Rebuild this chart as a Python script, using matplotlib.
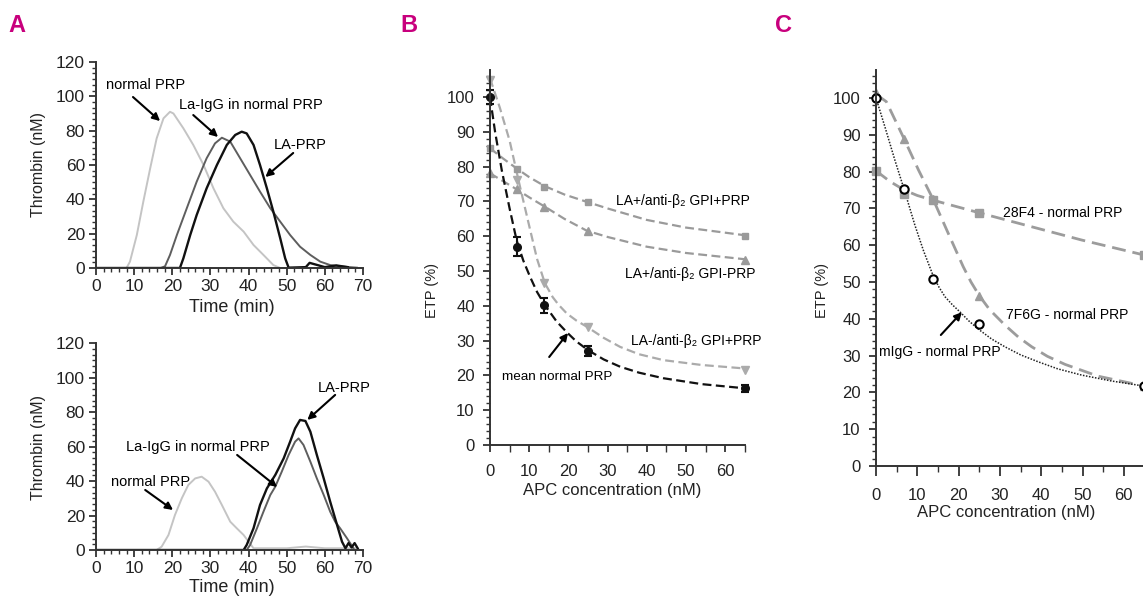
import matplotlib
matplotlib.use("Agg")
import matplotlib.pyplot as plt
from matplotlib.ticker import MultipleLocator

plt.rcParams['font.family'] = ['Liberation Sans', 'DejaVu Sans']

# ---------------- Panel A data (thrombin generation curves) ----------------
# top panel
a1_normal_t = [0, 8.0, 8.9, 10.7, 12.4, 14.2, 15.9, 17.7, 19.4, 20.3, 22.9, 25.5, 28.2, 30.8, 33.4, 36.0, 38.7, 41.3, 43.9, 46.5, 48.3, 52]
a1_normal_y = [0, 0, 3.7, 19.2, 38.6, 58, 75.5, 87.2, 91, 90, 81.4, 71.7, 60, 46.4, 34.8, 27, 21.2, 13.4, 7.6, 1.7, 0, 0]
a1_lagg_t = [0, 17.0, 18.1, 19.4, 21.2, 23.8, 26.4, 29.0, 31.2, 33.0, 35.2, 37.8, 40.4, 43.0, 45.7, 48.3, 50.9, 53.5, 56.2, 58.8, 61.4, 64.9, 68.4]
a1_lagg_y = [0, 0, 1, 7.6, 19.2, 34.8, 50.3, 63.9, 72.6, 75.9, 73.6, 63.9, 54.2, 44.5, 34.8, 27, 19.2, 12.4, 7.6, 3.7, 1.7, 0.8, 0.2]
a1_la_t = [0, 22.0, 22.9, 24.7, 26.4, 29.0, 31.7, 34.3, 36.5, 38.2, 39.5, 41.3, 43.0, 44.8, 46.5, 48.3, 49.6, 50.5, 55, 56, 60, 63, 66]
a1_la_y = [0, 0, 5.6, 19.2, 30.9, 46.4, 60, 71.7, 77.5, 79.4, 78.4, 71.7, 60, 46.4, 32.8, 17.3, 5.6, 0.2, 0.5, 3, 0.5, 1.5, 0.5]
# bottom panel
a2_normal_t = [0, 15.9, 17.2, 19.0, 20.7, 22.5, 24.2, 26.0, 27.7, 29.5, 31.2, 33.0, 35.2, 36.9, 38.7, 40.0, 41.3, 50, 55, 60, 68]
a2_normal_y = [0, 0, 1.9, 8.7, 20.3, 30, 37.7, 41.5, 42.5, 39.6, 33.8, 26.1, 16.4, 12.6, 8.7, 4.8, 1, 1, 2, 1, 1]
a2_lagg_t = [0, 39.5, 40.4, 42.2, 43.9, 45.7, 47.0, 48.7, 50.5, 52.2, 53.1, 54.4, 56.2, 57.9, 59.7, 61.4, 62.7, 64.0, 65.8, 67.5]
a2_lagg_y = [0, 0, 2.9, 12.6, 22.2, 31.9, 36.7, 45.4, 55.1, 62.8, 64.7, 60.9, 51.2, 41.5, 31.9, 22.2, 16.4, 12.6, 6.8, 1]
a2_la_t = [0, 38.7, 39.5, 41.3, 43.0, 44.8, 47.0, 49.2, 50.9, 52.2, 53.5, 54.9, 56.2, 57.9, 59.7, 61.4, 63.2, 64.5, 65.4, 66.2, 67.0, 67.8, 68.6]
a2_la_y = [0, 0, 2.9, 12.6, 26.1, 35.7, 43.5, 53.1, 62.8, 70.5, 75.4, 74.8, 68.6, 55.1, 41.5, 28, 14.5, 4.8, 1, 4, 1.5, 4, 1]

# ---------------- Panel B data (ETP vs APC) ----------------
b_apc = [0, 6.8, 13.9, 25, 65]
b_mean_normal = [100, 57, 40.2, 27.1, 16.3]
b_mean_normal_err = [2, 2.8, 2.2, 1.4, 1.0]
b_laneg_anti_pos = [105, 76.3, 46.6, 34, 21.7]
b_lapos_anti_pos = [85.3, 79.3, 74.3, 69.8, 60.2]
b_lapos_anti_neg = [78.1, 73.5, 68.4, 61.6, 53.2]
# fitted curves
b_fit_mean_x = [0, 1.3, 3, 5, 6.8, 8.5, 10.2, 12, 14, 17, 19.6, 22, 25.1, 29, 33.2, 38, 44.2, 54, 65]
b_fit_mean_y = [100, 90, 79, 68, 58.8, 53, 48.4, 44, 40.2, 35.5, 32.4, 29.8, 27.2, 24.6, 22.5, 20.8, 19.2, 17.5, 16.3]
b_fit_laneg_x = [0, 2.5, 5, 7.5, 10, 12, 14, 16, 17.5, 19.6, 22, 24.7, 29, 33.2, 38, 44.2, 54, 65]
b_fit_laneg_y = [105.4, 97, 87.5, 75, 63, 53.5, 46.5, 42.5, 40.3, 37.8, 35.8, 34, 30.8, 28.2, 26.1, 24.4, 23, 22]
b_fit_lapos_x = [0, 3.4, 6.8, 10, 14, 19, 24.7, 30, 40, 50, 65]
b_fit_lapos_y = [85.3, 82.3, 79.5, 77, 74.4, 72, 69.9, 68, 64.7, 62.5, 60.3]
b_fit_lapos2_x = [0, 3.4, 6.8, 10, 14, 19, 24.7, 30, 40, 50, 65]
b_fit_lapos2_y = [78.1, 75.8, 73.5, 71.2, 68.5, 65, 61.6, 59.8, 57, 55.2, 53.4]

# ---------------- Panel C data ----------------
c_apc = [0, 6.8, 13.9, 25, 65]
c_migg = [100, 75.2, 50.7, 38.6, 21.7]
c_7f6g = [101.3, 88.9, 72.5, 46.3, 21.7]
c_28f4 = [80.2, 74.0, 72.3, 68.8, 57.3]
c_fit_migg_x = [0, 2.2, 4.6, 6.8, 9.4, 11.5, 13.9, 15.3, 16.7, 18.5, 20.3, 22.5, 25, 28, 31.2, 35, 39.3, 44, 49.8, 57, 65]
c_fit_migg_y = [100, 92, 83, 75.2, 65.5, 58.5, 51.5, 48.5, 46, 43.8, 41.9, 39.4, 37, 34.5, 32.4, 30.2, 28.3, 26.4, 24.7, 23.1, 21.7]
c_fit_7f6g_x = [0, 2.5, 5.4, 6.8, 10.3, 13.9, 17.5, 21.1, 23, 25, 27.5, 31.2, 34.5, 37.7, 41.5, 45.8, 53.8, 65]
c_fit_7f6g_y = [101, 99, 92.2, 88.9, 80.4, 72.3, 63.2, 54.2, 50, 46.3, 42.5, 38.3, 35, 32.4, 29.8, 27.6, 24.4, 21.7]
c_fit_28f4_x = [0, 3.4, 6.8, 10, 13.9, 25, 37.7, 49.8, 65]
c_fit_28f4_y = [80.2, 77.3, 75.0, 73.5, 72.2, 68.8, 65, 61.4, 57.3]

W, H = 1143, 598
fig = plt.figure(figsize=(W / 100, H / 100), dpi=100)


def ax_px(left, right, bottom, top):
    return fig.add_axes([left / W, 1 - bottom / H, (right - left) / W, (bottom - top) / H])


def style(ax, xmaj, xmin, ymaj, ymin, tick_fs, xpad, ypad):
    for s in ['top', 'right']:
        ax.spines[s].set_visible(False)
    for s in ['left', 'bottom']:
        ax.spines[s].set_color('#333333')
        ax.spines[s].set_linewidth(1.4)
    ax.xaxis.set_major_locator(MultipleLocator(xmaj))
    ax.xaxis.set_minor_locator(MultipleLocator(xmin))
    ax.yaxis.set_major_locator(MultipleLocator(ymaj))
    ax.yaxis.set_minor_locator(MultipleLocator(ymin))
    ax.tick_params(which='major', length=5, width=1.3, color='#333333', labelsize=tick_fs, labelcolor='#222222')
    ax.tick_params(which='minor', length=3, width=1.0, color='#333333')
    ax.tick_params(axis='x', which='major', pad=xpad)
    ax.tick_params(axis='y', which='major', pad=ypad)
    ax.set_facecolor('none')


LIGHT = '#c4c4c4'
DARK = '#5e5e5e'
BLACK = '#111111'
arrow = dict(arrowstyle='-|>', color='black', lw=1.5, mutation_scale=11, shrinkA=0, shrinkB=0)
ann_fs = 10.5

# ---- Panel A top
ax1 = ax_px(96, 363, 268, 62)
ax1.plot(a1_normal_t, a1_normal_y, color=LIGHT, lw=1.4)
ax1.plot(a1_lagg_t, a1_lagg_y, color=DARK, lw=1.4)
ax1.plot(a1_la_t, a1_la_y, color=BLACK, lw=1.7)
ax1.set_xlim(0, 70)
ax1.set_ylim(0, 120)
style(ax1, 10, 2, 20, 20 / 6, 12.5, 3, 3)
ax1.text(12.9, 106.6, 'normal PRP', ha='center', va='center', fontsize=ann_fs)
ax1.annotate('', xy=(16.8, 85.6), xytext=(9.7, 99.6), arrowprops=arrow)
ax1.text(40.7, 94.9, 'La-IgG in normal PRP', ha='center', va='center', fontsize=ann_fs)
ax1.annotate('', xy=(32, 76.3), xytext=(25.5, 89.1), arrowprops=arrow)
ax1.text(53.5, 71.6, 'LA-PRP', ha='center', va='center', fontsize=ann_fs)
ax1.annotate('', xy=(44.4, 53), xytext=(51.7, 67), arrowprops=arrow)

# ---- Panel A bottom
ax2 = ax_px(96, 363, 550, 343)
ax2.plot(a2_normal_t, a2_normal_y, color=LIGHT, lw=1.4)
ax2.plot(a2_lagg_t, a2_lagg_y, color=DARK, lw=1.4)
ax2.plot(a2_la_t, a2_la_y, color=BLACK, lw=1.7)
ax2.set_xlim(0, 70)
ax2.set_ylim(0, 120)
style(ax2, 10, 2, 20, 20 / 6, 12.5, 3, 3)
ax2.text(65.1, 93.9, 'LA-PRP', ha='center', va='center', fontsize=ann_fs)
ax2.annotate('', xy=(55.4, 75.4), xytext=(62.7, 89.9), arrowprops=arrow)
ax2.text(26.8, 59.7, 'La-IgG in normal PRP', ha='center', va='center', fontsize=ann_fs)
ax2.annotate('', xy=(47.5, 36.5), xytext=(37, 55.1), arrowprops=arrow)
ax2.text(14.2, 39.4, 'normal PRP', ha='center', va='center', fontsize=ann_fs)
ax2.annotate('', xy=(20.2, 23.2), xytext=(12.9, 34.8), arrowprops=arrow)

fig.text(38 / W, 1 - 165 / H, 'Thrombin (nM)', rotation=90, ha='center', va='center', fontsize=11.5, color='#222222')
fig.text(38 / W, 1 - 447 / H, 'Thrombin (nM)', rotation=90, ha='center', va='center', fontsize=11.5, color='#222222')
fig.text(232 / W, 1 - 308 / H, 'Time (min)', ha='center', va='center', fontsize=13, color='#222222')
fig.text(232 / W, 1 - 588 / H, 'Time (min)', ha='center', va='center', fontsize=13, color='#222222')

# ---- Panel B
axb = ax_px(490, 490 + 65 * 3.92, 445, 70)
G1 = '#9a9a9a'
G2 = '#ababab'
axb.plot(b_fit_lapos_x, b_fit_lapos_y, color=G1, lw=1.6, ls=(0, (4, 2)))
axb.plot(b_fit_lapos2_x, b_fit_lapos2_y, color=G1, lw=1.6, ls=(0, (4, 2)))
axb.plot(b_fit_laneg_x, b_fit_laneg_y, color=G2, lw=1.6, ls=(0, (4, 2)))
axb.plot(b_fit_mean_x, b_fit_mean_y, color=BLACK, lw=1.6, ls=(0, (4, 2)))
axb.plot(b_apc, b_lapos_anti_pos, 's', color=G1, ms=5, clip_on=False)
axb.plot(b_apc, b_lapos_anti_neg, '^', color=G1, ms=5.5, clip_on=False)
axb.plot(b_apc, b_laneg_anti_pos, 'v', color=G2, ms=5.5, clip_on=False)
axb.errorbar(b_apc, b_mean_normal, yerr=b_mean_normal_err, fmt='o', color=BLACK, ms=5.5,
             capsize=3, elinewidth=1.5, capthick=1.5, clip_on=False)
axb.set_xlim(0, 65)
axb.set_ylim(0, 107.8)
style(axb, 10, 5, 10, 2, 12, 9, 6)
axb.tick_params(axis='x', which='minor', length=5)
tf = 10
axb.text(49.1, 70.1, 'LA+/anti-β₂ GPI+PRP', ha='center', va='center', fontsize=tf)
axb.text(51.0, 49.1, 'LA+/anti-β₂ GPI-PRP', ha='center', va='center', fontsize=tf)
axb.text(52.6, 30.0, 'LA-/anti-β₂ GPI+PRP', ha='center', va='center', fontsize=tf)
axb.text(17.1, 19.6, 'mean normal PRP', ha='center', va='center', fontsize=9.7)
axb.annotate('', xy=(19.9, 32.2), xytext=(15.1, 25.3), arrowprops=arrow)
fig.text(432 / W, 1 - 291 / H, 'ETP (%)', rotation=90, ha='center', va='center', fontsize=10.5, color='#222222')
fig.text(612 / W, 1 - 490 / H, 'APC concentration (nM)', ha='center', va='center', fontsize=12, color='#222222')

# ---- Panel C
axc = ax_px(876, 876 + 66 * 4.13, 466, 70)
G3 = '#9c9c9c'
axc.plot(c_fit_28f4_x, c_fit_28f4_y, color=G3, lw=2.0, ls=(0, (5, 2.5)))
axc.plot(c_fit_7f6g_x, c_fit_7f6g_y, color=G3, lw=2.0, ls=(0, (5, 2.5)))
axc.plot(c_fit_migg_x, c_fit_migg_y, color='#222222', lw=1.1, ls=(0, (1, 1)))
axc.plot(c_apc, c_28f4, 's', color=G3, ms=5.5, clip_on=False)
axc.plot(c_apc, c_7f6g, '^', color=G3, ms=6, clip_on=False)
axc.plot(c_apc, c_migg, 'o', mfc='white', mec='black', mew=1.5, ms=6, clip_on=False)
axc.set_xlim(0, 66)
axc.set_ylim(0, 107.6)
style(axc, 10, 5, 10, 2, 12, 9, 6)
axc.tick_params(axis='x', which='major', length=7)
axc.tick_params(axis='x', which='minor', length=4)
axc.text(45.2, 68.8, '28F4 - normal PRP', ha='center', va='center', fontsize=tf)
axc.text(46.2, 41.0, '7F6G - normal PRP', ha='center', va='center', fontsize=tf)
axc.text(15.5, 31.1, 'mIgG - normal PRP', ha='center', va='center', fontsize=tf)
axc.annotate('', xy=(20.8, 41.8), xytext=(15.7, 35.6), arrowprops=arrow)
fig.text(822 / W, 1 - 291 / H, 'ETP (%)', rotation=90, ha='center', va='center', fontsize=10.5, color='#222222')
fig.text(1006 / W, 1 - 513 / H, 'APC concentration (nM)', ha='center', va='center', fontsize=12, color='#222222')

# ---- Panel letters
PINK = '#c8007d'
fig.text(17 / W, 1 - 25 / H, 'A', ha='center', va='center', fontsize=17, fontweight='bold', color=PINK)
fig.text(409 / W, 1 - 25 / H, 'B', ha='center', va='center', fontsize=17, fontweight='bold', color=PINK)
fig.text(784 / W, 1 - 25 / H, 'C', ha='center', va='center', fontsize=17, fontweight='bold', color=PINK)

fig.savefig('out.png', dpi=100)
